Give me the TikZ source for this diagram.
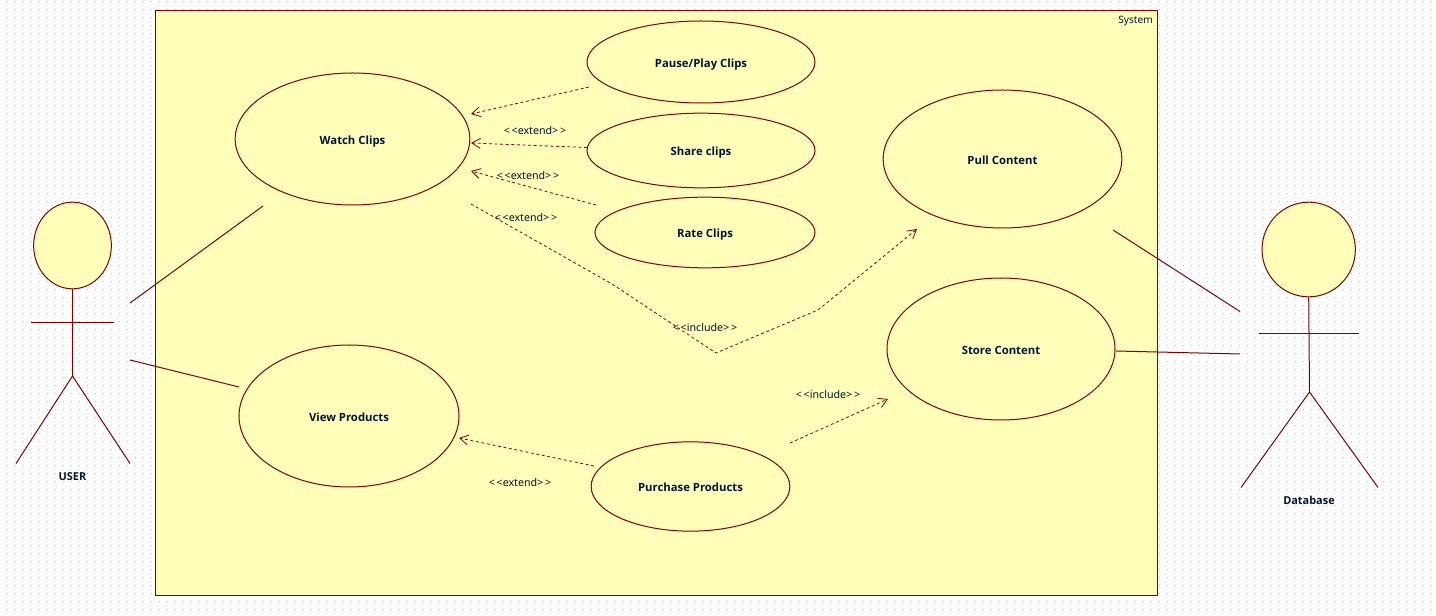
\documentclass[tikz,border=0pt]{standalone}
\usepackage{fontspec}
\setmainfont{Open Sans}
\newfontfamily\regfont{Noto Sans}
\usetikzlibrary{arrows.meta,shapes.geometric}
\definecolor{umlline}{RGB}{128,0,0}
\definecolor{umlfill}{RGB}{255,255,185}
\definecolor{umldot}{RGB}{195,195,195}
\definecolor{umltext}{RGB}{0,20,50}
\newcommand{\ltlt}{<\kern1.3pt<}
\newcommand{\gtgt}{>\kern1.3pt>}
\tikzset{
  usecase/.style={draw=umlline,fill=umlfill,ellipse,inner sep=0pt,line width=0.75pt,font=\bfseries\fontsize{8.5pt}{10pt}\selectfont,text=umltext,text height=7.6pt,text depth=0pt},
  actorpart/.style={draw=umlline,line width=0.75pt},
  actorname/.style={font=\bfseries\fontsize{8.2pt}{10pt}\selectfont,text=umltext,inner sep=0pt},
  assoc/.style={draw=umlline,line width=0.75pt},
  dep/.style={draw=umlline,line width=0.6pt,dash pattern=on 2.2pt off 2pt,-{Straight Barb[length=6.5pt,width=7.5pt,line width=0.6pt]}},
  steretype/.style={font=\regfont\fontsize{8pt}{10pt}\selectfont,text=umltext,inner sep=0pt},
  dotrow/.style={draw=umldot,line width=0.9pt,dash pattern=on 0.9pt off 5.1pt},
}
\begin{document}
\begin{tikzpicture}[x=0.75pt,y=-0.75pt]
\useasboundingbox (0,0) rectangle (1436,616);
\fill[white] (0,0) rectangle (1436,616);
\foreach \j in {0,...,76}{\draw[dotrow] (7,1.5+\j*8) -- (1436,1.5+\j*8);}
\node[draw=umlline,fill=umlfill,line width=0.75pt,minimum width=751.5pt,minimum height=439pt,inner sep=0pt,anchor=north west] (sys) at (155,10) {};
\node[anchor=north east,steretype,font=\regfont\fontsize{7.6pt}{10pt}\selectfont] (systxt) at (1153,16) {System};

\node[usecase,minimum width=176pt,minimum height=99pt] (watch) at (352.5,139) {Watch Clips};
\node[usecase,minimum width=171pt,minimum height=61.5pt] (pause) at (701,62) {Pause/Play Clips};
\node[usecase,minimum width=171pt,minimum height=56pt] (share) at (701,150.5) {Share clips};
\node[usecase,minimum width=165pt,minimum height=53pt] (rate) at (705,232.5) {Rate Clips};
\node[usecase,minimum width=179pt,minimum height=103.5pt] (pull) at (1002.5,159) {Pull Content};
\node[usecase,minimum width=171pt,minimum height=106.5pt] (store) at (1001,349) {Store Content};
\node[usecase,minimum width=165pt,minimum height=106.5pt] (view) at (349,416) {View Products};
\node[usecase,minimum width=149pt,minimum height=67pt] (purchase) at (690.5,486.5) {Purchase Products};

% USER actor
\node[usecase,minimum width=58.3pt,minimum height=65pt] (userhead) at (72.5,245.5) {};
\coordinate (userhip) at (72.5,376);
\coordinate (userarmL) at (31,322.5);
\coordinate (userarmR) at (114,322.5);
\coordinate (userfootL) at (16,463.5);
\coordinate (userfootR) at (130,463.5);
\draw[actorpart] (userhead.south) -- (userhip);
\draw[actorpart] (userarmL) -- (userarmR);
\draw[actorpart] (userfootL) -- (userhip) -- (userfootR);
\node[actorname] (usertxt) at (72.5,476.5) {USER};

% Database actor
\node[usecase,minimum width=70pt,minimum height=71pt] (dbhead) at (1308.7,249.5) {};
\coordinate (dbhip) at (1309.5,392);
\coordinate (dbarmL) at (1259,333.5);
\coordinate (dbarmR) at (1359,333.5);
\coordinate (dbfootL) at (1241,487.5);
\coordinate (dbfootR) at (1378,487.5);
\draw[actorpart] (dbhead.south) -- (dbhip);
\draw[actorpart] (dbarmL) -- (dbarmR);
\draw[actorpart] (dbfootL) -- (dbhip) -- (dbfootR);
\node[actorname] (dbtxt) at (1309,500.5) {Database};

% free ends
\coordinate (a1s) at (130,303); \coordinate (a1e) at (263,206);
\coordinate (a2s) at (130,360); \coordinate (a2e) at (239,387);
\coordinate (a3s) at (1113,230); \coordinate (a3e) at (1240,311.5);
\coordinate (a4s) at (1116,351); \coordinate (a4e) at (1240,354);
\draw[assoc] (a1s) -- (a1e);
\draw[assoc] (a2s) -- (a2e);
\draw[assoc] (a3s) -- (a3e);
\draw[assoc] (a4s) -- (a4e);

\coordinate (d1s) at (589,87); \coordinate (d1e) at (471,114);
\coordinate (d2s) at (587,147.5); \coordinate (d2e) at (471,143);
\coordinate (d3s) at (596,205); \coordinate (d3e) at (471,171);
\coordinate (d4s) at (471,204); \coordinate (d4m) at (612,284); \coordinate (d4k) at (716,353);
\coordinate (d4n) at (818,310); \coordinate (d4e) at (917,229);
\coordinate (d5s) at (594,466); \coordinate (d5e) at (459,438);
\coordinate (d6s) at (790,443); \coordinate (d6e) at (888,399);
\draw[dep] (d1s) -- (d1e);
\draw[dep] (d2s) -- (d2e);
\draw[dep] (d3s) -- (d3e);
\draw[dep] (d4s) -- (d4m) -- (d4k) -- (d4n) -- (d4e);
\draw[dep] (d5s) -- (d5e);
\draw[dep] (d6s) -- (d6e);

\node[steretype] (l1) at (535,130.5) {\ltlt extend\gtgt};
\node[steretype] (l2) at (528,175.5) {\ltlt extend\gtgt};
\node[steretype] (l3) at (526,217.5) {\ltlt extend\gtgt};
\node[steretype] (l4) at (705,327.5) {\ltlt include\gtgt};
\node[steretype] (l5) at (828,394.5) {\ltlt include\gtgt};
\node[steretype] (l6) at (520,482.5) {\ltlt extend\gtgt};
\end{tikzpicture}
\end{document}
